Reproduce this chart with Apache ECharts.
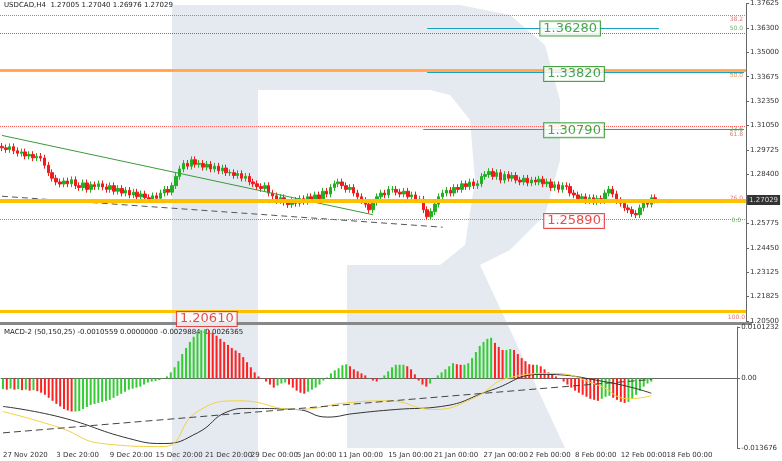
<!DOCTYPE html>
<html><head><meta charset="utf-8">
<script src="https://cdn.jsdelivr.net/npm/echarts@6/dist/echarts.min.js"></script>
<style>html,body{margin:0;padding:0;background:#fff}#c{width:782px;height:461px}</style>
</head><body><div id="c"></div>
<script>
const closes = [1.2984,1.2975,1.2990,1.2968,1.2955,1.2962,1.2940,1.2948,1.2930,1.2938,1.2929,
1.2890,1.2850,1.2820,1.2800,1.2789,
1.2805,1.2790,1.2812,1.2780,1.2770,1.2795,1.2760,1.2785,1.2775,1.2790,1.2773,
1.2760,1.2780,1.2750,1.2765,1.2740,1.2755,1.2730,1.2745,1.2720,1.2735,1.2715,1.2707,
1.2725,1.2712,1.2740,1.2760,1.2745,1.2780,
1.2830,1.2870,1.2900,1.2885,1.2920,1.2895,1.2900,
1.2880,1.2895,1.2870,1.2885,1.2860,1.2875,1.2850,1.2850,
1.2835,1.2845,1.2820,1.2830,1.2800,1.2790,1.2775,1.2765,
1.2780,1.2740,1.2725,1.2700,1.2715,1.2690,1.2678,
1.2700,1.2685,1.2710,1.2695,1.2720,1.2705,1.2730,1.2710,
1.2750,1.2735,1.2770,1.2790,1.2800,
1.2780,1.2760,1.2770,1.2740,1.2720,1.2700,1.2680,1.2650,
1.2690,1.2720,1.2740,1.2730,1.2760,1.2760,
1.2745,1.2735,1.2750,1.2720,1.2730,1.2705,1.2707,1.2650,1.2612,
1.2640,1.2680,1.2720,1.2740,
1.2755,1.2740,1.2770,1.2760,1.2790,1.2775,1.2800,1.2780,1.2790,
1.2830,1.2840,1.2856,
1.2830,1.2850,1.2810,1.2840,1.2820,
1.2835,1.2810,1.2800,1.2820,1.2795,1.2810,1.2800,
1.2815,1.2790,1.2800,1.2770,1.2785,1.2760,1.2780,1.2775,
1.2740,1.2730,1.2710,1.2720,1.2700,
1.2715,1.2695,1.2710,1.2700,1.2740,1.2760,1.2735,
1.2700,1.2685,1.2660,1.2650,1.2630,1.2623,
1.2660,1.2690,1.2680,1.2715,1.2703];
const histE4 = [-21,-22,-20,-22,-21,-23,-22,-24,-23,-25,
-28,-32,-38,-44,-50,-55,
-60,-63,-65,-65,-64,
-60,-56,-52,-50,-48,-46,-44,-42,
-38,-34,-30,-26,-22,-20,-18,-16,
-12,-8,-6,-5,-3,-1,
4,12,22,34,48,60,72,82,90,95,97,
95,90,84,78,72,66,60,55,50,
42,32,22,12,4,0,
-6,-12,-18,-14,-10,-8,
-12,-18,-24,-28,-30,-26,-22,-18,
-12,-4,2,10,16,
20,26,28,24,18,
14,10,6,0,-4,-6,-2,
6,14,22,27,27,27,24,18,
8,-4,-12,-16,-10,0,
6,12,18,24,30,28,27,27,30,
40,52,64,72,78,80,
70,62,56,56,58,56,
48,40,34,28,27,27,
24,18,12,8,4,0,
-6,-12,-18,-24,-28,-32,-36,
-40,-42,-44,-40,-36,-34,
-38,-42,-46,-48,-46,
-40,-32,-24,-16,-10,-6];
const blackLineE4 = [[0,-55],[15,-76],[33,-118],[42,-128],[51,-107],[59,-65],[64,-59],[77,-61],[85,-76],[92,-69],[103,-61],[115,-55],[128,-23],[141,8],[159,-8],[170,-29]];
const yellowLineE4 = [[0,-65],[15,-97],[26,-128],[42,-134],[51,-65],[62,-44],[77,-61],[90,-48],[101,-44],[113,-61],[123,-40],[133,2],[144,10],[156,-13],[164,-40],[170,-34]];
const dashedMacdE4 = [[0,-107],[170,-2]];
const greenTrend = [[0,1.3051],[96,1.2623]];
const greyTrend = [[0,1.2723],[114,1.2556]];
const priceTicks = [1.37625,1.36300,1.35000,1.33675,1.32350,1.31050,1.29725,1.28400,1.25775,1.24450,1.23125,1.21825,1.20500];
const macdTicks = [0.0101232,0,-0.013676];
const dateLabels = {0:'27 Nov 2020',14:'3 Dec 20:00',28:'9 Dec 20:00',40:'15 Dec 20:00',53:'21 Dec 20:00',65:'29 Dec 00:00',77:'5 Jan 00:00',88:'11 Jan 00:00',101:'15 Jan 00:00',113:'21 Jan 00:00',126:'27 Jan 00:00',138:'2 Feb 00:00',150:'8 Feb 00:00',162:'12 Feb 00:00',174:'18 Feb 00:00'};
const levelBoxes = [{v:1.36280,i:147,c:'#1e8c1e'},{v:1.33820,i:148,c:'#1e8c1e'},{v:1.30790,i:148,c:'#1e8c1e'},{v:1.25890,i:148,c:'#e02020'},{v:1.20610,i:53,c:'#e02020'}];
const fibTags = [{v:1.3675,t:'38.2',c:'#e05050'},{v:1.3628,t:'50.0',c:'#4a9a4a'},{v:1.3392,t:'38.2',c:'#4a9a4a'},{v:1.3374,t:'50.0',c:'#e08030'},{v:1.3085,t:'23.6',c:'#4a9a4a'},{v:1.3055,t:'61.8',c:'#e05050'},{v:1.2712,t:'76.0',c:'#e05050'},{v:1.2595,t:'0.0',c:'#4a9a4a'},{v:1.2068,t:'100.0',c:'#e05050'}];
const lastPrice = 1.27029;
const N = 193;

const cats = Array.from({length:N},(_,i)=>i);
const ohlc = closes.map((c,i)=>{const o=i?closes[i-1]:c+0.0008;return [o,c,Math.min(o,c)-0.0018,Math.max(o,c)+0.0018];});
const hist = histE4.map((v,i)=>({value:v*1e-4,itemStyle:{color:(i===0||v>=histE4[i-1])?'#33cc33':'#ff2020'}}));
const e4 = a=>a.map(p=>[p[0],p[1]*1e-4]);
const wm = '#e5eaf1';
const chart = echarts.init(document.getElementById('c'));
const hl = (v,color,type,width)=>({yAxis:v,lineStyle:{color,type,width}});
chart.setOption({
  animation:false,
  textStyle:{fontFamily:'DejaVu Sans'},
  graphic:[
    {type:'rect',z:-10,silent:true,shape:{x:172,y:5,width:86,height:456},style:{fill:wm}},
    {type:'polygon',z:-10,silent:true,shape:{points:[[258,5],[460,5],[510,15],[545,45],[560,100],[560,160],[545,215],[510,250],[480,265],[565,448],[347,448],[347,265],[440,265],[465,245],[475,180],[470,120],[450,95],[430,90],[258,90]]},style:{fill:wm}},
    {type:'text',left:4,top:2,style:{text:'USDCAD,H4  1.27005 1.27040 1.26976 1.27029',fontSize:7,fill:'#222',fontFamily:'DejaVu Sans'}},
    {type:'text',left:4,top:329,style:{text:'MACD-2 (50,150,25) -0.0010559 0.0000000 -0.0029884 -0.0026365',fontSize:7,fill:'#222',fontFamily:'DejaVu Sans'}},
    {type:'rect',silent:true,shape:{x:0,y:322,width:752,height:3},style:{fill:'#888'}}
  ],
  grid:[{left:0,right:30,top:0,height:321,containLabel:false},{left:0,right:30,top:327,height:121}],
  xAxis:[
    {type:'category',data:cats,gridIndex:0,boundaryGap:true,axisLine:{show:false},axisTick:{show:false},axisLabel:{show:false}},
    {type:'category',data:cats,gridIndex:1,boundaryGap:true,axisLine:{lineStyle:{color:'#666'}},axisTick:{show:false},
     axisLabel:{interval:(i)=>dateLabels[i]!==undefined,formatter:(v)=>dateLabels[v]||'',fontSize:7,color:'#333',margin:4,align:'left'}}
  ],
  yAxis:[
    {type:'value',gridIndex:0,position:'right',min:1.205,max:1.37625,splitLine:{show:false},axisLine:{show:true,lineStyle:{color:'#666'}},
     axisTick:{show:true,customValues:priceTicks,length:3},axisLabel:{customValues:priceTicks,formatter:v=>v.toFixed(5),fontSize:7,color:'#333',margin:4}},
    {type:'value',gridIndex:1,position:'right',min:-0.013676,max:0.0101232,splitLine:{show:false},axisLine:{show:true,lineStyle:{color:'#666'}},
     axisTick:{show:true,customValues:macdTicks,length:3},axisLabel:{customValues:macdTicks,formatter:v=>v===0?'0.00':String(v),fontSize:7,color:'#333',margin:4}}
  ],
  series:[
    {type:'candlestick',xAxisIndex:0,yAxisIndex:0,data:ohlc,barWidth:3,
     itemStyle:{color:'#22b022',color0:'#ee1c1c',borderColor:'#22b022',borderColor0:'#ee1c1c'},
     markLine:{silent:true,symbol:'none',label:{show:false},data:[
       hl(1.3675,'#ff6060','dotted',1),hl(1.3628,'#40a040','dotted',1),
       hl(1.3376,'#ffc000','solid',3),hl(1.3372,'#ff9a40','dotted',1),
       hl(1.3083,'#40a040','dotted',1),hl(1.3052,'#ff6060','dotted',1),
       hl(1.2705,'#ffc000','solid',4),hl(1.2589,'#70b030','dotted',1),hl(1.2061,'#ffc000','solid',3),
       [{coord:[110,1.3628],lineStyle:{color:'#1aa0c0',width:1,type:'solid'}},{coord:[170,1.3628]}],
       [{coord:[110,1.3389],lineStyle:{color:'#1aa0c0',width:1,type:'solid'}},{coord:[192,1.3389]}],
       [{coord:[109,1.3082],lineStyle:{color:'#1aa0c0',width:1,type:'solid'}},{coord:[192,1.3082]}]
     ]}},
    {type:'line',xAxisIndex:0,yAxisIndex:0,data:greenTrend,symbol:'none',lineStyle:{color:'#3a9a3a',width:1}},
    {type:'line',xAxisIndex:0,yAxisIndex:0,data:greyTrend,symbol:'none',lineStyle:{color:'#555',width:1,type:[6,4]}},
    {type:'scatter',xAxisIndex:0,yAxisIndex:0,symbolSize:0,z:20,zlevel:1,data:levelBoxes.map(b=>({value:[b.i,b.v],label:{show:true,position:'inside',formatter:b.v.toFixed(5),color:b.c,fontSize:13,backgroundColor:'#fff',borderColor:b.c,borderWidth:1,padding:[1,3,0,3]}}))},
    {type:'scatter',xAxisIndex:0,yAxisIndex:0,symbolSize:0,data:fibTags.map(f=>({value:[190,f.v],label:{show:true,position:'inside',formatter:f.t,color:f.c,fontSize:6}}))},
    {type:'scatter',xAxisIndex:0,yAxisIndex:0,symbolSize:0,data:[{value:[192,lastPrice],label:{show:true,position:'right',distance:3,formatter:lastPrice.toFixed(5),color:'#fff',backgroundColor:'#000',fontSize:7,padding:[2,2,1,2]}}],z:20,zlevel:1},
    {type:'bar',xAxisIndex:1,yAxisIndex:1,data:hist,barWidth:2},
    {type:'line',xAxisIndex:1,yAxisIndex:1,data:e4(blackLineE4),smooth:0.5,symbol:'none',lineStyle:{color:'#333',width:1}},
    {type:'line',xAxisIndex:1,yAxisIndex:1,data:e4(yellowLineE4),smooth:0.5,symbol:'none',lineStyle:{color:'#f2d040',width:1}},
    {type:'line',xAxisIndex:1,yAxisIndex:1,data:e4(dashedMacdE4),symbol:'none',lineStyle:{color:'#444',width:1,type:[7,4]}}
  ]
});
</script></body></html>
